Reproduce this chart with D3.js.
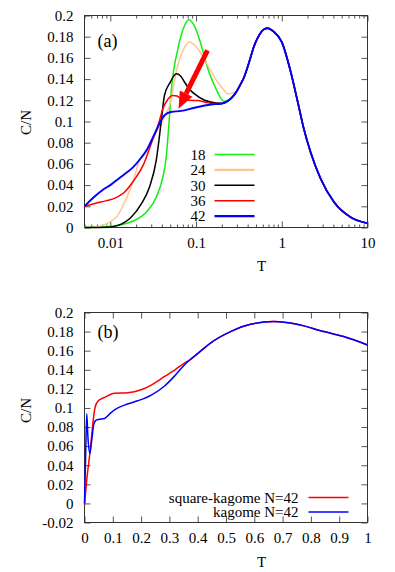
<!DOCTYPE html>
<html>
<head>
<meta charset="utf-8">
<script src="https://cdn.jsdelivr.net/npm/d3@7"></script>
<style>
  body { margin: 0; background: #fff; }
  text { font-family: "Liberation Serif", "DejaVu Serif", serif; fill: #000; }
</style>
</head>
<body>
<div id="chart"></div>
<script>
// ---- panel (a) data: C/N vs T for several N ----
// high temperature part, shared by every N
var tailA = [[0.25,0.121],[0.29,0.127],[0.33,0.135],[0.36,0.141],[0.42,0.157],[0.47,0.170],[0.55,0.182],
  [0.62,0.187],[0.68,0.188],[0.8,0.185],[1.0,0.175],[1.27,0.147],[1.52,0.120],[1.81,0.093],[2.17,0.071],
  [2.84,0.046],[4.06,0.024],[6.35,0.0097],[10,0.004]];

var n18 = [[0.005,0],[0.0098,0.001],[0.0191,0.0066],[0.0274,0.016],[0.0343,0.0286],[0.041,0.0475],[0.0449,0.0663],
  [0.048,0.095],[0.0513,0.128],[0.0614,0.1686],[0.0735,0.1906],[0.0819,0.196],[0.096,0.19],[0.115,0.172],
  [0.137,0.150],[0.164,0.134],[0.18,0.127],[0.211,0.119]];
var n24 = [[0.005,0],[0.0064,0.0003],[0.0115,0.009],[0.015,0.0255],[0.018,0.041],[0.0215,0.0616],[0.0269,0.0726],
  [0.0352,0.0915],[0.041,0.101],[0.049,0.115],[0.0614,0.153],[0.0735,0.170],[0.084,0.175],[0.105,0.1686],
  [0.137,0.153],[0.179,0.137],[0.215,0.129],[0.235,0.126],[0.27,0.127],[0.30,0.129]];
var n30 = [[0.005,0],[0.0095,0.0003],[0.0123,0.002],[0.0175,0.0097],[0.0229,0.022],[0.0286,0.038],[0.0343,0.063],
  [0.039,0.098],[0.0428,0.1245],[0.05,0.137],[0.0588,0.145],[0.066,0.143],[0.0735,0.137],[0.085,0.130],
  [0.096,0.126],[0.126,0.120],[0.164,0.1176],[0.2,0.117]];
var n36 = [[0.005,0.020],[0.0077,0.024],[0.012,0.0286],[0.0145,0.033],[0.0188,0.0443],[0.0246,0.060],[0.030,0.079],
  [0.0375,0.101],[0.041,0.112],[0.047,0.121],[0.0536,0.1245],[0.060,0.124],[0.067,0.1214],[0.080,0.120],
  [0.105,0.1198],[0.13,0.118],[0.16,0.117],[0.2,0.117]];
var n42 = [[0.005,0.020],[0.0065,0.029],[0.008,0.035],[0.01,0.040],[0.0125,0.046],[0.015,0.051],[0.0185,0.057],
  [0.023,0.066],[0.027,0.074],[0.031,0.084],[0.035,0.093],[0.039,0.101],[0.043,0.106],[0.051,0.109],
  [0.067,0.110],[0.096,0.113],[0.15,0.116],[0.2,0.117]];

var sizes = ["18", "24", "30", "36", "42"];
var colorsA = ["#11ee11", "#ffc590", "#000000", "#ff0000", "#0000ff"];

// arrow in panel (a): from [T, C] to [T, C]
var arrowA = [[0.136, 0.167], [0.0625, 0.112]];

// ---- panel (b) data ----
var tailB = [[0.375,0.151],[0.40,0.157],[0.445,0.168],[0.516,0.180],[0.587,0.1877],[0.669,0.1905],
  [0.751,0.1877],[0.846,0.180],[0.916,0.1748],[1.0,0.166]];
var squareKagome = [[0,-0.002],[0.008,0.025],[0.02,0.055],[0.03,0.085],[0.037,0.100],[0.047,0.107],
  [0.071,0.111],[0.106,0.1155],[0.153,0.116],[0.2,0.119],[0.236,0.124],[0.283,0.133],[0.32,0.140],[0.353,0.147]];
var kagome = [[0,0],[0.004,0.05],[0.008,0.094],[0.012,0.07],[0.019,0.0526],[0.025,0.065],[0.033,0.083],
  [0.04,0.087],[0.05,0.088],[0.071,0.089],[0.09,0.094],[0.106,0.098],[0.141,0.103],[0.188,0.1075],
  [0.236,0.1135],[0.283,0.123],[0.32,0.134],[0.353,0.145]];
var namesB = ["square-kagome N=42", "kagome N=42"];
var colorsB = ["#ff0000", "#0000ff"];

var yTicksA = d3.range(0, 0.2001, 0.02);
var yTicksB = d3.range(-0.02, 0.2001, 0.02);
var xTicksA = [0.01, 0.1, 1, 10];
var xTicksB = d3.range(0, 1.0001, 0.1);

// ---- drawing ----
var W = 283, H = 212;
var FS = "15px";
var svg = d3.select("#chart").append("svg")
    .attr("width", 395)
    .attr("height", 572);

function withTail(pts, tail) {
    var last = pts[pts.length - 1][0];
    return pts.concat(tail.filter(function (d) { return d[0] > last + 0.01; }));
}

function fmt(d) { return String(+d.toFixed(2)); }

function frame(g, x, y, h, xMajor, xMinor, yTicks, xFmt) {
    var gx = g.append("g").attr("transform", "translate(0," + h + ")")
        .call(d3.axisBottom(x).tickValues(xMajor).tickSize(-6).tickPadding(10).tickFormat(xFmt));
    gx.selectAll("text").style("font-size", FS);
    g.append("g").call(d3.axisTop(x).tickValues(xMajor).tickSize(-6).tickFormat(""));
    if (xMinor) {
        g.append("g").attr("transform", "translate(0," + h + ")")
            .call(d3.axisBottom(x).tickValues(xMinor).tickSize(-3).tickFormat(""));
        g.append("g").call(d3.axisTop(x).tickValues(xMinor).tickSize(-3).tickFormat(""));
    }
    var gy = g.append("g")
        .call(d3.axisLeft(y).tickValues(yTicks).tickSize(-6).tickPadding(11).tickFormat(fmt));
    gy.selectAll("text").style("font-size", FS);
    g.append("g").attr("transform", "translate(" + W + ",0)")
        .call(d3.axisRight(y).tickValues(yTicks).tickSize(-6).tickFormat(""));
    g.selectAll(".domain").remove();
    g.selectAll(".tick line").attr("stroke", "#555");
    g.append("rect").attr("width", W).attr("height", h)
        .attr("fill", "none").attr("stroke", "#333").attr("stroke-width", 1);
}

// panel (a)
var ga = svg.append("g").attr("transform", "translate(84.5,15.5)");
var xa = d3.scaleLog().domain([0.005, 10]).range([0, W]);
var ya = d3.scaleLinear().domain([0, 0.2]).range([H, 0]);
var minorA = xa.ticks().filter(function (d) { return xTicksA.indexOf(d) < 0; });
frame(ga, xa, ya, H, xTicksA, minorA, yTicksA, function (d) { return String(d); });

var lineA = d3.line()
    .x(function (d) { return xa(d[0]); })
    .y(function (d) { return ya(d[1]); })
    .curve(d3.curveMonotoneX);

var seriesA = [n18, n24, n30, n36, n42];
seriesA.forEach(function (s, i) {
    ga.append("path")
        .datum(withTail(s, tailA))
        .attr("d", lineA)
        .attr("fill", "none")
        .attr("stroke", colorsA[i])
        .attr("stroke-width", i == 4 ? 1.9 : 1.5);
});

// red arrow
var p0 = [xa(arrowA[0][0]), ya(arrowA[0][1])];
var p1 = [xa(arrowA[1][0]), ya(arrowA[1][1])];
var ang = Math.atan2(p1[1] - p0[1], p1[0] - p0[0]);
var headLen = 17, headW = 7;
var base = [p1[0] - headLen * Math.cos(ang), p1[1] - headLen * Math.sin(ang)];
ga.append("line")
    .attr("x1", p0[0]).attr("y1", p0[1])
    .attr("x2", base[0]).attr("y2", base[1])
    .attr("stroke", "#ff0000").attr("stroke-width", 5);
ga.append("path")
    .attr("d", "M" + p1[0] + "," + p1[1] +
        "L" + (base[0] + headW * Math.sin(ang)) + "," + (base[1] - headW * Math.cos(ang)) +
        "L" + (base[0] - headW * Math.sin(ang)) + "," + (base[1] + headW * Math.cos(ang)) + "Z")
    .attr("fill", "#ff0000");

// legend (a)
var legA = ga.append("g");
sizes.forEach(function (n, i) {
    var yy = 139 + i * 15.4;
    legA.append("text").attr("x", 121).attr("y", yy).attr("dy", "0.35em")
        .attr("text-anchor", "end").style("font-size", FS).text(n);
    legA.append("line").attr("x1", 130).attr("x2", 170).attr("y1", yy).attr("y2", yy)
        .attr("stroke", colorsA[i]).attr("stroke-width", (i == 1 || i == 4) ? 2.2 : 1.5);
});

ga.append("text").attr("x", 13).attr("y", 25).attr("dy", "0.35em")
    .style("font-size", "18px").text("(a)");
ga.append("text").attr("x", 177).attr("y", 250).attr("dy", "0.35em")
    .attr("text-anchor", "middle").style("font-size", FS).text("T");
ga.append("text").attr("transform", "translate(-59," + (H / 2 + 1) + ") rotate(-90)")
    .attr("dy", "0.35em").attr("text-anchor", "middle").style("font-size", FS).text("C/N");

// panel (b)
var HB = 210;
var gb = svg.append("g").attr("transform", "translate(84.5,312.5)");
var xb = d3.scaleLinear().domain([0, 1]).range([0, W]);
var yb = d3.scaleLinear().domain([-0.02, 0.2]).range([HB, 0]);
frame(gb, xb, yb, HB, xTicksB, null, yTicksB, fmt);

var lineB = d3.line()
    .x(function (d) { return xb(d[0]); })
    .y(function (d) { return yb(d[1]); })
    .curve(d3.curveMonotoneX);

[squareKagome, kagome].forEach(function (s, i) {
    gb.append("path")
        .datum(withTail(s, tailB))
        .attr("d", lineB)
        .attr("fill", "none")
        .attr("stroke", colorsB[i])
        .attr("stroke-width", 1.5);
});

namesB.forEach(function (n, i) {
    var yy = 185 + i * 14.5;
    gb.append("text").attr("x", 214).attr("y", yy).attr("dy", "0.35em")
        .attr("text-anchor", "end").style("font-size", FS).text(n);
    gb.append("line").attr("x1", 224).attr("x2", 264).attr("y1", yy).attr("y2", yy)
        .attr("stroke", colorsB[i]).attr("stroke-width", 1.5);
});

gb.append("text").attr("x", 13).attr("y", 19).attr("dy", "0.35em")
    .style("font-size", "18px").text("(b)");
gb.append("text").attr("x", 177).attr("y", 249).attr("dy", "0.35em")
    .attr("text-anchor", "middle").style("font-size", FS).text("T");
gb.append("text").attr("transform", "translate(-59,98) rotate(-90)")
    .attr("dy", "0.35em").attr("text-anchor", "middle").style("font-size", FS).text("C/N");
</script>
</body>
</html>
